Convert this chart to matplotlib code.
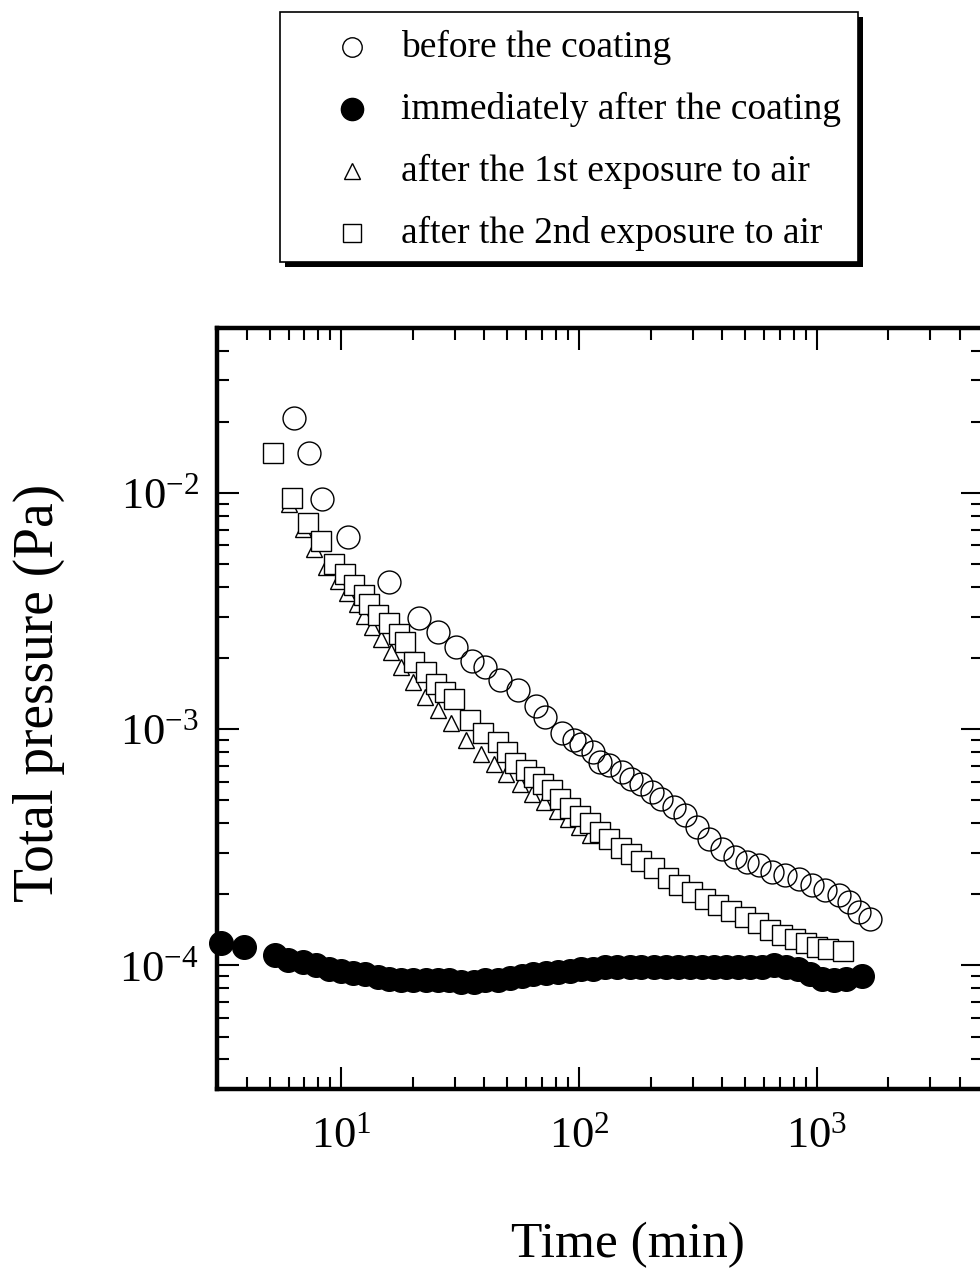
import matplotlib
matplotlib.use("Agg")
import matplotlib.pyplot as plt
from matplotlib.patches import Rectangle

# temps (min) et pression totale (Pa) pour chaque serie de mesures
t_before = [6.34, 7.33, 8.32, 10.7, 15.8, 21.3, 25.6, 30.5, 35.6, 40.4, 46.3, 55.1, 66.2, 71.6,
            84.4, 94.8, 102, 114, 123, 134, 151, 166, 183, 202, 222, 250, 278, 313, 351, 398,
            451, 507, 570, 647, 733, 840, 952, 1081, 1239, 1365, 1504, 1672]
p_before = [2.08e-2, 1.48e-2, 9.43e-3, 6.50e-3, 4.19e-3, 2.97e-3, 2.59e-3, 2.22e-3, 1.95e-3,
            1.84e-3, 1.61e-3, 1.46e-3, 1.25e-3, 1.13e-3, 9.66e-4, 9.02e-4, 8.67e-4, 8.02e-4,
            7.27e-4, 7.06e-4, 6.60e-4, 6.17e-4, 5.87e-4, 5.43e-4, 5.07e-4, 4.69e-4, 4.34e-4,
            3.85e-4, 3.43e-4, 3.11e-4, 2.88e-4, 2.74e-4, 2.66e-4, 2.48e-4, 2.41e-4, 2.32e-4,
            2.19e-4, 2.08e-4, 1.98e-4, 1.85e-4, 1.68e-4, 1.57e-4]

t_after = [3.12, 3.90, 5.27, 5.98, 6.92, 7.85, 8.90, 10.0, 11.2, 12.6, 14.2, 15.9, 17.9, 20.1,
           22.6, 25.4, 28.5, 32.0, 36.0, 40.4, 45.4, 51.0, 57.3, 64.3, 72.3, 81.2, 91.2, 102,
           115, 129, 145, 163, 183, 206, 231, 260, 292, 328, 368, 414, 465, 522, 587, 659,
           740, 832, 934, 1050, 1179, 1325, 1547]
p_after = [1.25e-4, 1.20e-4, 1.11e-4, 1.06e-4, 1.03e-4, 1.00e-4, 0.971e-4, 0.952e-4, 0.934e-4,
           0.916e-4, 0.898e-4, 0.880e-4, 0.872e-4, 0.872e-4, 0.872e-4, 0.872e-4, 0.864e-4,
           0.855e-4, 0.855e-4, 0.864e-4, 0.872e-4, 0.889e-4, 0.907e-4, 0.916e-4, 0.925e-4,
           0.943e-4, 0.952e-4, 0.962e-4, 0.971e-4, 0.981e-4, 0.981e-4, 0.990e-4, 0.981e-4,
           0.990e-4, 0.981e-4, 0.981e-4, 0.981e-4, 0.981e-4, 0.990e-4, 0.990e-4, 0.990e-4,
           0.981e-4, 0.990e-4, 1.00e-4, 0.990e-4, 0.962e-4, 0.916e-4, 0.880e-4, 0.872e-4,
           0.880e-4, 0.907e-4]

t_air1 = [6.04, 6.92, 7.70, 8.65, 9.71, 10.6, 11.6, 12.5, 13.5, 14.7, 16.2, 17.9, 20.1, 22.4,
          25.4, 29.0, 33.6, 38.5, 43.7, 49.5, 56.2, 63.1, 70.9, 80.4, 89.5, 99.5, 111]
p_air1 = [8.98e-3, 7.03e-3, 5.78e-3, 4.85e-3, 4.23e-3, 3.76e-3, 3.38e-3, 3.03e-3, 2.72e-3,
          2.42e-3, 2.13e-3, 1.84e-3, 1.59e-3, 1.37e-3, 1.21e-3, 1.06e-3, 9.03e-4, 7.87e-4,
          7.15e-4, 6.45e-4, 5.85e-4, 5.30e-4, 4.90e-4, 4.52e-4, 4.18e-4, 3.86e-4, 3.57e-4]

t_air2 = [5.17, 6.22, 7.26, 8.24, 9.34, 10.4, 11.3, 12.4, 13.1, 14.3, 15.9, 17.4, 18.6, 20.3,
          22.8, 24.9, 27.2, 29.9, 34.9, 39.6, 45.4, 50.0, 54.0, 60.1, 64.9, 70.2, 77.3, 82.8,
          91.2, 100.5, 110.7, 122, 134, 150, 165, 183, 206, 236, 262, 298, 338, 383, 434,
          498, 564, 634, 712, 808, 899, 1000, 1113, 1287]
p_air2 = [1.48e-2, 9.52e-3, 7.46e-3, 6.26e-3, 4.99e-3, 4.53e-3, 4.07e-3, 3.72e-3, 3.38e-3,
          3.06e-3, 2.81e-3, 2.54e-3, 2.35e-3, 1.93e-3, 1.75e-3, 1.55e-3, 1.44e-3, 1.35e-3,
          1.10e-3, 9.66e-4, 8.85e-4, 8.03e-4, 7.21e-4, 6.73e-4, 6.28e-4, 5.87e-4, 5.53e-4,
          5.07e-4, 4.64e-4, 4.29e-4, 4.01e-4, 3.67e-4, 3.43e-4, 3.14e-4, 2.96e-4, 2.76e-4,
          2.58e-4, 2.34e-4, 2.19e-4, 2.04e-4, 1.91e-4, 1.80e-4, 1.70e-4, 1.60e-4, 1.52e-4,
          1.42e-4, 1.35e-4, 1.29e-4, 1.24e-4, 1.20e-4, 1.18e-4, 1.15e-4]

labels = ["before the coating", "immediately after the coating",
          "after the 1st exposure to air", "after the 2nd exposure to air"]

plt.rcParams['font.family'] = ['Liberation Serif', 'DejaVu Serif']
plt.rcParams['mathtext.fontset'] = 'custom'
plt.rcParams['mathtext.rm'] = 'Liberation Serif'

fig = plt.figure(figsize=(9.8, 12.73), dpi=100)
W, H = 980, 1273
ax = fig.add_axes([217 / W, 1 - 1089 / H, 766 / W, 761 / H])

# triangles d'abord : les carres (fond blanc) passent par dessus
ax.plot(t_air1, p_air1, '^', ms=11.5, mfc='white', mec='black', mew=1.0, ls='none', zorder=2)
ax.plot(t_air2, p_air2, 's', ms=15, mfc='white', mec='black', mew=1.0, ls='none', zorder=3)
ax.plot(t_before, p_before, 'o', ms=16.5, mfc='none', mec='black', mew=1.0, ls='none', zorder=4)
ax.plot(t_after, p_after, 'o', ms=17, color='black', ls='none', zorder=4, clip_on=False)

ax.set_xscale('log')
ax.set_yscale('log')
ax.set_xlim(3, 5000)
ax.set_ylim(3e-5, 5e-2)

for s in ax.spines.values():
    s.set_linewidth(3.2)
ax.tick_params(which='both', direction='in', top=True, right=True, width=1.5)
ax.tick_params(which='major', length=16, labelsize=32)
ax.tick_params(which='minor', length=8.5)
ax.tick_params(axis='x', which='major', pad=20)
ax.tick_params(axis='y', which='major', pad=13)

ax.set_xlabel("Time (min)", fontsize=37)
ax.xaxis.set_label_coords(0.537, -0.205)
ax.xaxis.label.set_va('center')
ax.set_ylabel("Total pressure (Pa)", fontsize=40)
ax.yaxis.set_label_coords(-0.232, 0.52)
ax.yaxis.label.set_va('center')

# legende dessinee a la main (cadre avec ombre noire)
lx0, ly0, lw, lh = 280, 12, 578, 250
lax = fig.add_axes([lx0 / W, 1 - (ly0 + lh) / H, lw / W, lh / H])
lax.set_xlim(0, 1)
lax.set_ylim(0, 1)
lax.axis('off')
lax.add_patch(Rectangle((5 / lw, -5 / lh), 1, 1, facecolor='black', edgecolor='none', clip_on=False))
lax.add_patch(Rectangle((0, 0), 1, 1, facecolor='white', edgecolor='black', lw=1.2, clip_on=False))

rows_y = [0.86, 0.612, 0.364, 0.116]
styles = [dict(marker='o', ms=14, mfc='none', mec='black', mew=1.0),
          dict(marker='o', ms=16, mfc='black', mec='black'),
          dict(marker='^', ms=12, mfc='none', mec='black', mew=1.0),
          dict(marker='s', ms=13.5, mfc='none', mec='black', mew=1.0)]
for yy, st, lab in zip(rows_y, styles, labels):
    lax.plot([0.1246], [yy], ls='none', **st)
    lax.text(0.2093, yy, lab, fontsize=27, va='center', ha='left')

fig.savefig('out.png', dpi=100)
